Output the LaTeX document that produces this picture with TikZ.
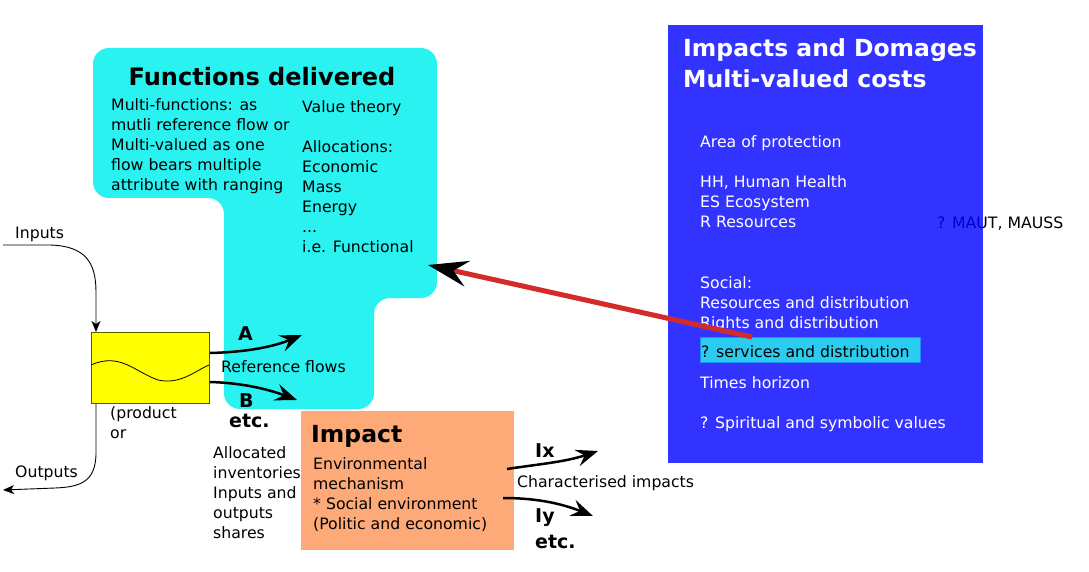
\documentclass[tikz,border=0pt]{standalone}
\usepackage{fontspec}
\setmainfont{DejaVu Sans}
\usetikzlibrary{arrows.meta}
\definecolor{cyanbox}{RGB}{42,242,240}
\definecolor{hilite}{RGB}{42,204,240}
\definecolor{orangebox}{RGB}{253,170,120}
\definecolor{redline}{RGB}{212,42,42}
\definecolor{olive}{RGB}{90,90,0}
\definecolor{pureyellow}{RGB}{255,255,0}
\newcommand\ml[1]{\begin{tabular}[t]{@{}l@{}}#1\end{tabular}}
\begin{document}
\begin{tikzpicture}[x=1pt,y=-1pt,
  txt/.style={inner sep=0pt, anchor=base west, font=\fontsize{15.7}{20}\selectfont},
  wtxt/.style={txt, text=white},
  ttl/.style={inner sep=0pt, anchor=base west, font=\fontsize{23.5}{29}\selectfont\bfseries},
  lbl/.style={inner sep=0pt, anchor=base west, font=\fontsize{19}{22}\selectfont\bfseries},
  bigarrow/.style={line width=2.5pt, -{Stealth[length=22pt,width=17pt,inset=8pt]}},
  thinarrow/.style={line width=0.9pt, -{Stealth[length=11pt,width=9pt,inset=3pt]}}]
\useasboundingbox (0,0) rectangle (1089,572);

% cyan function shape
\path[fill=cyanbox, rounded corners=16pt] (93,48) -- (437,48) -- (437,298) -- (374,298) -- (374,409) -- (224,409) -- (224,198) -- (93,198) -- cycle;
\coordinate (fnin) at (428,265);

% text beneath the translucent blue box
\node[txt] (maut) at (937,228) {? MAUT, MAUSS};
% blue box
\path[fill=blue, fill opacity=0.8] (668,25) rectangle (983,463);
\node[inner sep=0pt, fill=hilite, draw=hilite!70!blue, line width=0.6pt, minimum width=220pt, minimum height=25pt, anchor=north west] (hl) at (700,337) {};
% orange impact box
\path[fill=orangebox] (301,411) rectangle (514,550);

% yellow process box
\node[draw=olive, fill=pureyellow, line width=0.8pt, minimum width=118pt, minimum height=71pt, inner sep=0pt, anchor=north west] (proc) at (91,332) {};
\draw[line width=0.8pt] (91,365) .. controls (120,352) and (135,372) .. (158,380) .. controls (180,385) and (195,371) .. (209,365);

% texts: functions delivered
\node[inner sep=0pt, anchor=base, font=\fontsize{24}{28}\selectfont\bfseries] (fntitle) at (262,86) {Functions delivered};
\node[txt] (fnleft) at (111,111) {\ml{Multi-functions: as\\mutli reference flow or\\Multi-valued as one\\flow bears multiple\\attribute with ranging}};
\node[txt] (fnright) at (302,113) {\ml{Value theory\\ \\Allocations:\\Economic\\Mass\\Energy\\...\\i.e. Functional}};

% blue box texts
\node[ttl, text=white] (bt1) at (683,57) {Impacts and Domages};
\node[ttl, text=white] (bt2) at (683,88) {Multi-valued costs};
\node[wtxt] (aop) at (700,148) {\ml{Area of protection\\ \\HH, Human Health\\ES Ecosystem\\R Resources}};
\node[wtxt] (soc) at (700,288) {\ml{Social:\\Resources and distribution\\Rights and distribution}};
\node[txt] (serv) at (701,357) {? services and distribution};
\node[wtxt] (times) at (700,388) {Times horizon};
\node[wtxt] (spirit) at (700,428) {? Spiritual and symbolic values};

% impact texts
\node[inner sep=0pt, anchor=base west, font=\fontsize{23.5}{28}\selectfont\bfseries] (imptitle) at (311,442) {Impact};
\node[txt] (imptxt) at (313,469) {\ml{Environmental\\mechanism\\{}* Social environment\\(Politic and economic)}};
\node[txt] (alloc) at (213,458) {\ml{Allocated\\inventories\\Inputs and\\outputs\\shares}};

% flow labels
\node[txt] (inputs) at (15,238) {Inputs};
\node[txt] (outputs) at (15,477) {Outputs};
\node[txt] (prod) at (110,418) {\ml{(product\\or}};
\node[lbl] (lA) at (238,340) {A};
\node[lbl] (lB) at (239,407) {B};
\node[lbl] (etc1) at (229,427) {etc.};
\node[txt] (refl) at (221,372) {Reference flows};
\node[lbl] (lIx) at (535,457) {Ix};
\node[lbl] (lIy) at (535,522) {Iy};
\node[lbl] (etc2) at (535,548) {etc.};
\node[txt] (charimp) at (517,487) {Characterised impacts};

% connectors
\coordinate (inStart) at (3,245);
\coordinate (outEnd) at (3,490);
\coordinate (aEnd) at (302,335);
\coordinate (bEnd) at (297,400);
\coordinate (ixEnd) at (598,451);
\coordinate (iyEnd) at (593,516);
\coordinate (ixStart) at (507,469);
\coordinate (iyStart) at (503,498);

\draw[thinarrow] (inStart) -- (50,245) .. controls (85,246) and (96,262) .. (96,292) -- (proc.north west -| 96,332);
\draw[thinarrow] (proc.south west -| 96,403) -- (96,455) .. controls (95,482) and (80,487) .. (55,488) -- (outEnd);
\draw[bigarrow] (proc.east |- 211,353) .. controls (250,352) and (275,346) .. (aEnd);
\draw[bigarrow] (proc.east |- 211,382) .. controls (245,383) and (270,390) .. (bEnd);
\draw[bigarrow] (ixStart) .. controls (540,464) and (565,462) .. (ixEnd);
\draw[bigarrow] (iyStart) .. controls (535,498) and (560,503) .. (iyEnd);

\draw[redline, line width=5pt, -{Stealth[length=40pt,width=26pt,inset=14pt,color=black]}] (hl.north west -| 752,337) -- (fnin);
\end{tikzpicture}
\end{document}
